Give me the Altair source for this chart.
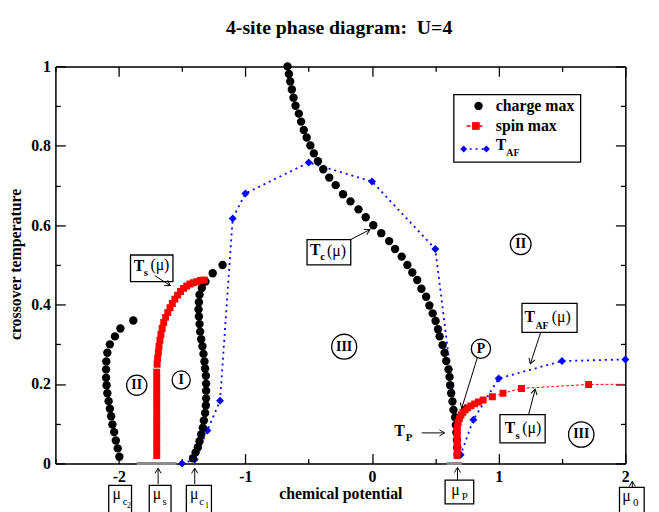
import math
import altair as alt
import pandas as pd

FONT = "Liberation Serif"
W, H = 577, 402
X_DOMAIN = [-2.5, 2.0]
Y_DOMAIN = [0.0, 1.0]

# ---------------- data ----------------
# charge max (black circles): three branches
charge_left_x = [-1.995, -2.008, -2.023, -2.036, -2.05, -2.06, -2.07, -2.08, -2.09, -2.096,
                 -2.1, -2.1, -2.098, -2.09, -2.07, -2.03, -1.987, -1.885]
charge_left_y = [0.017, 0.038, 0.058, 0.079, 0.098, 0.119, 0.138, 0.157, 0.177, 0.197,
                 0.216, 0.237, 0.257, 0.279, 0.30, 0.32, 0.34, 0.36]
charge_I_x = [-1.414, -1.393, -1.375, -1.362, -1.349, -1.336, -1.328, -1.318, -1.312, -1.31,
              -1.31, -1.31, -1.312, -1.318, -1.323, -1.331, -1.339, -1.349, -1.357, -1.362,
              -1.367, -1.37, -1.367, -1.362, -1.344, -1.315, -1.258, -1.18]
charge_I_y = [0.013, 0.028, 0.041, 0.056, 0.073, 0.09, 0.108, 0.127, 0.146, 0.164,
              0.183, 0.201, 0.221, 0.239, 0.257, 0.276, 0.295, 0.313, 0.332, 0.351,
              0.37, 0.388, 0.406, 0.425, 0.442, 0.458, 0.479, 0.50]
charge_mid_x = [-0.667, -0.656, -0.646, -0.633, -0.62, -0.604, -0.578, -0.56, -0.539, -0.516,
                -0.487, -0.459, -0.427, -0.385, -0.338, -0.287, -0.229, -0.17, -0.107, -0.05,
                0.01, 0.073, 0.135, 0.182, 0.234, 0.279, 0.318, 0.357, 0.39, 0.427,
                0.453, 0.479, 0.502, 0.521, 0.534, 0.557, 0.573, 0.586, 0.604, 0.612,
                0.617, 0.625, 0.635, 0.643, 0.656, 0.662, 0.666, 0.67, 0.673, 0.676]
charge_mid_y = [1.0, 0.981, 0.962, 0.942, 0.921, 0.901, 0.881, 0.861, 0.84, 0.821,
                0.801, 0.781, 0.761, 0.741, 0.72, 0.701, 0.678, 0.66, 0.64, 0.62,
                0.60, 0.58, 0.56, 0.54, 0.521, 0.50, 0.481, 0.462, 0.44, 0.42,
                0.398, 0.378, 0.359, 0.338, 0.32, 0.298, 0.279, 0.258, 0.237, 0.218,
                0.197, 0.177, 0.156, 0.135, 0.116, 0.097, 0.078, 0.059, 0.04, 0.021]

# spin max (red squares): two branches
spin_left_x = [-1.70, -1.70, -1.70, -1.70, -1.70, -1.70, -1.70, -1.70, -1.70, -1.70,
               -1.70, -1.70, -1.70, -1.70, -1.70,
               -1.697, -1.693, -1.687, -1.682, -1.675, -1.667, -1.657, -1.645, -1.630, -1.613,
               -1.595, -1.577, -1.557, -1.535, -1.512, -1.488, -1.463, -1.437, -1.410, -1.383,
               -1.355, -1.325]
spin_left_y = [0.020, 0.035, 0.050, 0.065, 0.080, 0.095, 0.110, 0.125, 0.140, 0.155,
               0.170, 0.185, 0.200, 0.215, 0.230,
               0.250, 0.265, 0.280, 0.295, 0.310, 0.325, 0.340, 0.355, 0.368, 0.380,
               0.392, 0.403, 0.414, 0.424, 0.433, 0.441, 0.447, 0.452, 0.455, 0.458,
               0.461, 0.462]
spin_right_x = [0.672, 0.672, 0.672, 0.672, 0.672, 0.672, 0.674, 0.680, 0.690, 0.703,
                0.718, 0.735, 0.755, 0.780, 0.810, 0.840, 0.877, 0.950, 1.034, 1.180,
                1.710, 2.300]
spin_right_y = [0.020, 0.032, 0.044, 0.056, 0.068, 0.080, 0.092, 0.103, 0.113, 0.122,
                0.129, 0.135, 0.140, 0.145, 0.150, 0.155, 0.160, 0.168, 0.177, 0.189,
                0.199, 0.200]

# T_AF (blue diamonds, dotted line)
taf_x = [-1.5, -1.4, -1.3, -1.2, -1.1, -1.0, -0.5, 0.0, 0.5, 0.7, 0.8, 1.0, 1.5, 2.0]
taf_y = [0.0, 0.01, 0.083, 0.158, 0.617, 0.68, 0.758, 0.71, 0.54, 0.022, 0.11, 0.214, 0.258, 0.262]

# axis ticks
x_major = [-2, -1, 0, 1, 2]
x_minor = [-2.5, -1.5, -0.5, 0.5, 1.5]
y_major = [0, 0.2, 0.4, 0.6, 0.8, 1]
y_minor = [0.1, 0.3, 0.5, 0.7, 0.9]

TITLE = "4-site phase diagram:\u00a0 U=4"

# ---------------- annotations (data units) ----------------
boxes = pd.DataFrame({
    "x1": [-1.907, -0.513, 1.184, 1.010, -2.079, -1.759, -1.466, 0.577, 1.954],
    "x2": [-1.572, -0.168, 1.619, 1.367, -1.899, -1.587, -1.268, 0.803, 2.149],
    "y1": [0.525, 0.564, 0.403, 0.123, -0.055, -0.055, -0.055, -0.042, -0.060],
    "y2": [0.458, 0.500, 0.330, 0.052, -0.125, -0.125, -0.125, -0.102, -0.125],
})
arrows = pd.DataFrame({
    "x1": [-1.715, -0.168, 1.332, 1.236, 0.833, 0.392, -1.689, -1.400, 0.675, 2.055],
    "y1": [0.473, 0.564, 0.330, 0.123, 0.268, 0.077, -0.052, -0.052, -0.042, -0.062],
    "x2": [-1.593, -0.017, 1.250, 1.289, 0.708, 0.573, -1.689, -1.400, 0.675, 2.055],
    "y2": [0.448, 0.589, 0.251, 0.187, 0.139, 0.077, -0.012, -0.012, -0.010, -0.045],
})
px_x = W / (X_DOMAIN[1] - X_DOMAIN[0])
px_y = H / (Y_DOMAIN[1] - Y_DOMAIN[0])
arrows["ang"] = [
    math.degrees(math.atan2(-(b - a) * px_y, (d - c) * px_x)) % 360
    for a, b, c, d in zip(arrows.y1, arrows.y2, arrows.x1, arrows.x2)
]
circles = pd.DataFrame({
    "x": [-1.858, -1.507, -0.22, 1.174, 1.652, 0.86],
    "y": [0.197, 0.21, 0.294, 0.552, 0.073, 0.289],
    "d2": [420, 340, 640, 440, 660, 380],
})
bold_text = pd.DataFrame([
    ("T", -1.840, 0.4975, 16), ("s", -1.786, 0.480, 11),
    ("T", -0.448, 0.537, 16), ("c", -0.390, 0.520, 11),
    ("T", 1.245, 0.369, 16), ("AF", 1.342, 0.347, 10),
    ("T", 1.089, 0.088, 16), ("s", 1.150, 0.068, 11),
    ("T", 0.218, 0.081, 16), ("P", 0.292, 0.063, 11),
    ("II", -1.858, 0.197, 14), ("I", -1.507, 0.21, 14), ("III", -0.22, 0.294, 14),
    ("II", 1.174, 0.552, 14), ("III", 1.652, 0.073, 14), ("P", 0.86, 0.289, 14),
    (TITLE, -0.26, 1.097, 20),
], columns=["t", "x", "y", "s"])
plain_text = pd.DataFrame([
    ("(μ)", -1.675, 0.499, 16), ("(μ)", -0.280, 0.535, 16),
    ("(μ)", 1.494, 0.369, 16), ("(μ)", 1.262, 0.088, 16),
    ("μ", -2.016, -0.077, 16), ("c", -1.950, -0.096, 11), ("2", -1.919, -0.108, 8),
    ("μ", -1.697, -0.077, 16), ("s", -1.638, -0.096, 11),
    ("μ", -1.404, -0.077, 16), ("c", -1.346, -0.096, 11), ("1", -1.303, -0.108, 8),
    ("μ", 0.659, -0.067, 16), ("P", 0.733, -0.085, 11),
    ("μ", 2.009, -0.083, 16), ("0", 2.083, -0.100, 11),
], columns=["t", "x", "y", "s"])
legend_text = pd.DataFrame([
    ("charge max", 0.977, 0.9005, 16), ("spin max", 0.977, 0.850, 16),
    ("T", 0.977, 0.802, 16), ("AF", 1.060, 0.782, 10),
], columns=["t", "x", "y", "s"])
legend_box = pd.DataFrame({"x1": [0.646], "x2": [1.647], "y1": [0.929], "y2": [0.759]})
gray_bars = pd.DataFrame({"x1": [-1.857, 0.59], "x2": [-1.545, 0.71], "y": [0.0, 0.0]})

# ---------------- tables ----------------
charge_df = pd.DataFrame({"x": charge_left_x + charge_I_x + charge_mid_x,
                          "y": charge_left_y + charge_I_y + charge_mid_y})
spin_df = pd.DataFrame({
    "x": spin_left_x + spin_right_x,
    "y": spin_left_y + spin_right_y,
    "b": ["L"] * len(spin_left_x) + ["R"] * len(spin_right_x),
    "i": list(range(len(spin_left_x) + len(spin_right_x))),
})
taf_df = pd.DataFrame({"x": taf_x, "y": taf_y, "i": list(range(len(taf_x)))})
leg_pts = pd.DataFrame({"x": [0.841, 0.82, 0.724, 0.903], "y": [0.9005, 0.85, 0.792, 0.792],
                        "k": ["c", "s", "t", "t"]})
leg_lines = pd.DataFrame({"x1": [0.747, 0.724], "x2": [0.885, 0.903], "y": [0.85, 0.792],
                          "k": ["s", "t"]})

XS = alt.Scale(domain=X_DOMAIN, nice=False, zero=False)
YS = alt.Scale(domain=Y_DOMAIN, nice=False, zero=False)


def X(f, axis=None):
    return alt.X(f"{f}:Q", scale=XS, axis=axis)


def Y(f, axis=None):
    return alt.Y(f"{f}:Q", scale=YS, axis=axis)


def tick_axis(orient, values, size, offset, domain=False):
    return alt.Axis(orient=orient, offset=offset, values=values, labels=False, domain=domain,
                    domainColor="black", domainWidth=1.5,
                    grid=False, ticks=True, tickSize=size, tickColor="black", tickWidth=1.3,
                    title="")


x_label_axis = alt.Axis(orient="bottom", values=x_major, labelExpr="'' + datum.value",
                        ticks=False, domain=True, domainColor="black", domainWidth=1.5,
                        grid=False, labelPadding=5, labelFlush=False,
                        labelFont=FONT, labelFontSize=16, labelFontWeight="bold", labelColor="black",
                        title="chemical potential", titleFont=FONT, titleFontSize=16,
                        titleFontWeight="bold", titleColor="black", titleX=W / 2, titleY=35,
                        titleBaseline="alphabetic")
y_label_axis = alt.Axis(orient="left", values=y_major, labelExpr="'' + datum.value",
                        ticks=False, domain=True, domainColor="black", domainWidth=1.5,
                        grid=False, labelPadding=5,
                        labelFont=FONT, labelFontSize=16, labelFontWeight="bold", labelColor="black",
                        title="crossover temperature", titleFont=FONT, titleFontSize=16,
                        titleFontWeight="bold", titleColor="black", titleX=-35, titleY=200,
                        titleBaseline="alphabetic")

gray = alt.Chart(gray_bars).mark_rule(color="#8c8c8c", strokeWidth=3).encode(
    x=X("x1", x_label_axis), x2="x2", y=Y("y", y_label_axis))

blue_line = alt.Chart(taf_df).mark_line(color="#0000ff", strokeWidth=1.8, strokeDash=[2, 4]).encode(
    x=X("x", tick_axis("top", x_major, 10, -H)), y=Y("y", tick_axis("right", y_major, 10, -W)),
    order="i:Q")
blue_pts = alt.Chart(taf_df).mark_point(shape="diamond", filled=True, color="#0000ff", size=64,
                                        opacity=1).encode(
    x=X("x", tick_axis("top", x_minor, 5, -H)), y=Y("y", tick_axis("right", y_minor, 5, -W)))
black_pts = alt.Chart(charge_df).mark_circle(color="black", size=72, opacity=1).encode(
    x=X("x", tick_axis("bottom", x_major, 10, -H, True)),
    y=Y("y", tick_axis("left", y_major, 10, -W, True)))
red_line = alt.Chart(spin_df).mark_line(color="#ff0000", strokeWidth=1, strokeDash=[3, 2],
                                        clip=True).encode(
    x=X("x", tick_axis("bottom", x_minor, 5, -H)), y=Y("y", tick_axis("left", y_minor, 5, -W)),
    detail="b:N", order="i:Q")
red_pts = alt.Chart(spin_df).mark_square(color="#ff0000", size=49, opacity=1, clip=True).encode(
    x=X("x"), y=Y("y"))

box_layer = alt.Chart(boxes).mark_rect(fill="white", stroke="black", strokeWidth=1.3).encode(
    x=X("x1"), x2="x2", y=Y("y1"), y2="y2")
shafts = alt.Chart(arrows).mark_rule(color="black", strokeWidth=1).encode(
    x=X("x1"), y=Y("y1"), x2="x2", y2="y2")
heads = alt.Chart(arrows).mark_point(shape="M -1 -0.6 L 0 0 L -1 0.6", filled=False, color="black",
                                     strokeWidth=1, size=110, opacity=1).encode(
    x=X("x2"), y=Y("y2"), angle=alt.Angle("ang:Q", scale=None))
circ = alt.Chart(circles).mark_point(shape="circle", filled=True, fill="white", stroke="black",
                                     strokeWidth=1.3, opacity=1).encode(
    x=X("x"), y=Y("y"), size=alt.Size("d2:Q", scale=None))
btxt = alt.Chart(bold_text).mark_text(font=FONT, fontWeight="bold", color="black", align="center",
                                      baseline="middle").encode(
    x=X("x"), y=Y("y"), text="t:N", size=alt.Size("s:Q", scale=None))
ptxt = alt.Chart(plain_text).mark_text(font=FONT, color="black", align="center",
                                       baseline="middle").encode(
    x=X("x"), y=Y("y"), text="t:N", size=alt.Size("s:Q", scale=None))

lbox = alt.Chart(legend_box).mark_rect(fill="white", stroke="black", strokeWidth=1.3).encode(
    x=X("x1"), x2="x2", y=Y("y1"), y2="y2")
lline = alt.Chart(leg_lines).mark_rule(strokeWidth=1.5).encode(
    x=X("x1"), x2="x2", y=Y("y"),
    color=alt.Color("k:N", scale=alt.Scale(domain=["s", "t"], range=["#ff0000", "#0000ff"]), legend=None),
    strokeDash=alt.StrokeDash("k:N", scale=alt.Scale(domain=["s", "t"], range=[[4, 2], [2, 4]]), legend=None))
lpts = alt.Chart(leg_pts).mark_point(filled=True, opacity=1).encode(
    x=X("x"), y=Y("y"),
    color=alt.Color("k:N", scale=alt.Scale(domain=["c", "s", "t"], range=["black", "#ff0000", "#0000ff"]), legend=None),
    shape=alt.Shape("k:N", scale=alt.Scale(domain=["c", "s", "t"], range=["circle", "square", "diamond"]), legend=None),
    size=alt.Size("k:N", scale=alt.Scale(domain=["c", "s", "t"], range=[72, 49, 64]), legend=None))
ltxt = alt.Chart(legend_text).mark_text(font=FONT, fontWeight="bold", color="black", align="left",
                                        baseline="middle").encode(
    x=X("x"), y=Y("y"), text="t:N", size=alt.Size("s:Q", scale=None))

chart = alt.layer(
    gray, blue_line, blue_pts, black_pts, red_line, red_pts,
    box_layer, shafts, heads, circ, btxt, ptxt,
    lbox, lline, lpts, ltxt,
).resolve_axis(x="independent", y="independent").resolve_scale(
    color="independent", shape="independent", size="independent", strokeDash="independent"
).properties(
    width=W, height=H,
    autosize=alt.AutoSizeParams(type="none"),
    padding={"left": 48, "top": 56, "right": 26, "bottom": 46},
).configure_view(stroke="black", strokeWidth=1.5).configure(background="white")

chart.save("out.html", embed_options={"renderer": "svg", "actions": False})
